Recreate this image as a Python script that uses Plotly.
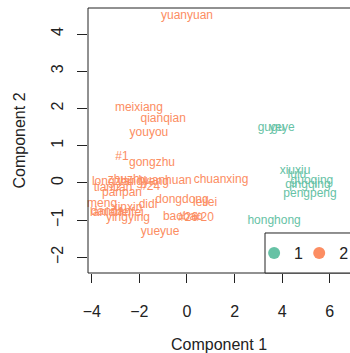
import plotly.graph_objects as go

# ---- data ----
names_c2 = ["yuanyuan", "meixiang", "qianqian", "youyou", "#1", "gongzhu",
            "longzhu", "zhuzhu", "yangyang", "huanhuan", "tiantian", "#24",
            "panpan", "chuanxing", "dongdong", "leilei", "didi", "meng",
            "xinxin", "lanlan", "dandan", "feifei", "yingying", "baobao",
            "#26", "#20", "yueyue"]
comp1_c2 = [0.00, -2.02, -1.00, -1.60, -2.73, -1.47,
            -3.11, -2.52, -1.85, -0.92, -3.11, -1.55,
            -2.73, 1.43, -0.21, 0.76, -1.64, -3.57,
            -2.52, -3.40, -3.20, -2.35, -2.48, -0.17,
            0.04, 0.71, -1.13]
comp2_c2 = [4.49, 2.02, 1.72, 1.34, 0.70, 0.54,
            0.03, 0.08, 0.03, 0.05, -0.13, -0.11,
            -0.27, 0.08, -0.46, -0.54, -0.59, -0.56,
            -0.67, -0.81, -0.78, -0.81, -0.94, -0.91,
            -0.94, -0.94, -1.32]

names_c1 = ["gugu", "yeye", "xiuxiu", "lulu", "guoqing", "qingqing",
            "pengpeng", "honghong"]
comp1_c1 = [3.53, 3.99, 4.54, 4.62, 5.25, 5.08, 5.17, 3.66]
comp2_c1 = [1.48, 1.48, 0.32, 0.22, 0.05, -0.05, -0.30, -1.02]

cluster_labels = ["1", "2"]
x_ticks = [-4, -2, 0, 2, 4, 6]
y_ticks = [-2, -1, 0, 1, 2, 3, 4]

GREEN = "#66C2A5"
ORANGE = "#FC8D62"
FONT = "Liberation Sans, Arial, Helvetica, sans-serif"

fig = go.Figure()
fig.add_trace(go.Scatter(x=comp1_c1, y=comp2_c1, text=names_c1, mode="text",
                         textposition="middle center",
                         textfont=dict(color=GREEN, size=12, family=FONT),
                         showlegend=False, cliponaxis=False))
fig.add_trace(go.Scatter(x=comp1_c2, y=comp2_c2, text=names_c2, mode="text",
                         textposition="middle center",
                         textfont=dict(color=ORANGE, size=12, family=FONT),
                         showlegend=False, cliponaxis=False))
for lab, col, lw in zip(cluster_labels, [GREEN, ORANGE], [0.1, 14]):
    fig.add_trace(go.Scatter(x=[None], y=[None], mode="markers", name=lab,
                             legendwidth=lw,
                             marker=dict(color=col, size=13, symbol="circle")))

# plot box (left, top, bottom; right side lies just off-canvas)
line = dict(color="#222222", width=1)
fig.add_shape(type="line", xref="paper", yref="paper", x0=0, x1=0, y0=0, y1=1, line=line)
fig.add_shape(type="line", xref="paper", yref="paper", x0=0, x1=1.05, y0=1, y1=1, line=line)
fig.add_shape(type="line", xref="paper", yref="paper", x0=0, x1=1.05, y0=0, y1=0, line=line)
# legend frame
fig.add_shape(type="rect", xref="paper", yref="paper", x0=0.6756, x1=1.05, y0=0, y1=0.151,
              line=line, fillcolor="white", layer="above")

fig.update_layout(
    width=350, height=353,
    margin=dict(l=88, r=0, t=8, b=80, autoexpand=False),
    paper_bgcolor="white", plot_bgcolor="white",
    font=dict(family=FONT, size=16, color="#222222"),
    showlegend=True,
    legend=dict(orientation="h", x=0.634, y=0.0755, xanchor="left", yanchor="middle",
                bgcolor="rgba(0,0,0,0)", borderwidth=0,
                font=dict(size=16, family=FONT), itemsizing="constant"),
    xaxis=dict(range=[-4.16, 6.85], tickvals=x_ticks, ticks="outside", ticklen=9,
               tickcolor="#222222", showgrid=False, zeroline=False, showline=False,
               ticklabelstandoff=15,
               title=dict(text="Component 1", standoff=20, font=dict(size=16))),
    yaxis=dict(range=[-2.42, 4.70], tickvals=y_ticks, ticks="outside", ticklen=10,
               tickcolor="#222222", showgrid=False, zeroline=False, showline=False,
               tickangle=-90, ticklabelstandoff=8,
               title=dict(text="Component 2", standoff=18, font=dict(size=16))),
)

fig.write_html("out.html")
